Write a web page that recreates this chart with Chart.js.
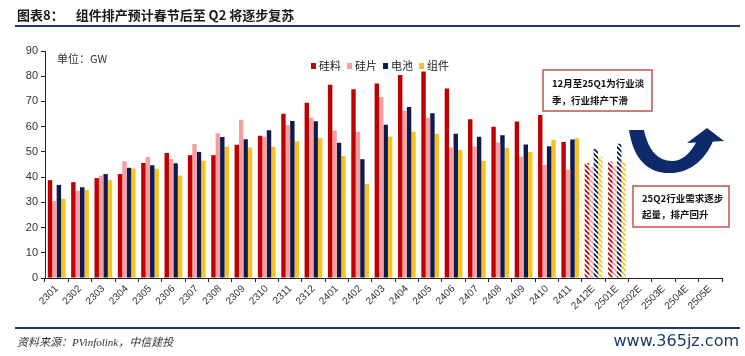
<!DOCTYPE html>
<html>
<head>
<meta charset="utf-8">
<script src="https://cdn.jsdelivr.net/npm/chart.js@4.4.1/dist/chart.umd.min.js"></script>
<style>
  html, body { margin: 0; padding: 0; background: #fff; }
  #wrap { position: relative; width: 745px; height: 356px; overflow: hidden; }
  #c { position: absolute; left: 0; top: 0; }
  .title { position: absolute; left: 17px; top: 5px; font: bold 13px "Noto Sans CJK SC", sans-serif; color: #1a1a1a; white-space: nowrap; }
  .title .t2 { margin-left: 12px; }
  .rule { position: absolute; left: 15px; width: 725px; height: 2px; background: #1f3a6b; }
  .src { position: absolute; left: 17px; top: 333px; font: italic 11px "Liberation Serif", "Noto Sans CJK SC", serif; color: #333; white-space: nowrap; }
  .wm { position: absolute; right: 6px; top: 331px; font: 16px "DejaVu Sans", sans-serif; color: #1f3a6b; white-space: nowrap; }
</style>
</head>
<body>
<div id="wrap">
  <canvas id="c" width="745" height="356"></canvas>
  <div class="title"><span>图表8：</span><span class="t2">组件排产预计春节后至 Q2 将逐步复苏</span></div>
  <div class="rule" style="top:25px"></div>
  <div class="rule" style="top:327px"></div>
  <div class="src">资料来源：PVinfolink，中信建投</div>
  <div class="wm">www.365jz.com</div>
</div>
<script>
// ---- data ----
const categories = ['2301','2302','2303','2304','2305','2306','2307','2308','2309','2310','2311','2312',
  '2401','2402','2403','2404','2405','2406','2407','2408','2409','2410','2411','2412E','2501E','2502E','2503E','2504E','2505E'];
const polysilicon = [38.8,38.0,39.6,41.2,45.6,49.6,48.7,48.7,52.8,56.4,65.1,69.5,76.6,74.8,77.1,80.5,81.9,75.1,62.9,60.0,62.0,64.6,53.9,45.6,46.1,null,null,null,null];
const wafer       = [30.5,34.6,40.6,46.3,48.0,47.2,53.1,57.4,62.7,56.0,60.6,63.5,58.5,58.0,71.8,66.3,63.5,51.7,52.1,53.7,48.1,44.8,43.0,44.0,44.5,null,null,null,null];
const cell        = [36.9,36.0,41.2,43.7,44.7,45.5,50.0,55.9,55.0,58.6,62.2,62.1,53.6,47.1,60.8,67.8,65.3,57.2,56.0,56.6,52.9,52.2,54.9,51.2,53.2,null,null,null,null];
const module_     = [31.4,34.9,38.8,43.4,43.3,40.6,46.5,52.0,51.7,52.0,54.1,55.4,48.4,37.3,56.0,58.0,57.2,50.7,46.4,51.6,50.0,54.8,55.4,48.1,46.0,null,null,null,null];
const seriesNames = ['硅料','硅片','电池','组件'];
const seriesColors = ['#C00000','#F4A0A3','#0D1B4F','#F9C223'];
const yTicks = [0,10,20,30,40,50,60,70,80,90];
const note1 = ['12月至25Q1为行业淡','季，行业排产下滑'];
const note2 = ['25Q2行业需求逐步','起量，排产回升'];
const unitLabel = '单位：GW';

function makeHatch(color) {
  const p = document.createElement('canvas');
  p.width = 5; p.height = 5;
  const g = p.getContext('2d');
  g.strokeStyle = color; g.lineWidth = 1.7; g.lineCap = 'square';
  g.beginPath();
  g.moveTo(0, 0); g.lineTo(5, 5);
  g.moveTo(-1, 4); g.lineTo(1, 6);
  g.moveTo(4, -1); g.lineTo(6, 1);
  g.stroke();
  return g.createPattern(p, 'repeat');
}
function fills(color) {
  const hatch = makeHatch(color);
  return categories.map(c => c.endsWith('E') ? hatch : color);
}
const allSeries = [polysilicon, wafer, cell, module_];

const overlay = {
  id: 'overlay',
  afterDatasetsDraw(chart) {
    const ctx = chart.ctx;
    const a = chart.chartArea;
    ctx.save();
    // unit label
    ctx.font = '11px "Noto Sans CJK SC", sans-serif';
    ctx.fillStyle = '#333';
    ctx.textBaseline = 'middle';
    ctx.textAlign = 'left';
    ctx.fillText(unitLabel, a.left + 12, a.top + 8);
    // legend
    const lx = [311, 347, 383, 419];
    const ly = a.top + 15;
    seriesNames.forEach((n, i) => {
      ctx.fillStyle = seriesColors[i];
      ctx.fillRect(lx[i], ly - 3, 5, 6);
      ctx.fillStyle = '#222';
      ctx.fillText(n, lx[i] + 8, ly);
    });
    // note boxes
    ctx.strokeStyle = '#C0504D';
    ctx.lineWidth = 1.5;
    ctx.strokeRect(543, 70, 109, 41);
    ctx.strokeRect(633, 186, 96, 41);
    ctx.fillStyle = '#111';
    ctx.font = 'bold 9.5px "Noto Sans CJK SC", sans-serif';
    ctx.fillText(note1[0], 552, 83);
    ctx.fillText(note1[1], 552, 100);
    ctx.fillText(note2[0], 642, 198);
    ctx.fillText(note2[1], 642, 214);
    // curved arrow
    ctx.fillStyle = '#0E2A6B';
    ctx.beginPath();
    ctx.moveTo(629, 130);
    ctx.bezierCurveTo(634, 162, 650, 174, 672, 173);
    ctx.bezierCurveTo(692, 172, 706, 158, 713, 141);
    ctx.lineTo(697, 141);
    ctx.bezierCurveTo(690, 154, 682, 161, 672, 161);
    ctx.bezierCurveTo(658, 161, 648, 150, 644, 130);
    ctx.closePath();
    ctx.fill();
    ctx.beginPath();
    ctx.moveTo(687, 143);
    ctx.lineTo(707, 128);
    ctx.lineTo(724, 141);
    ctx.closePath();
    ctx.fill();
    ctx.restore();
  }
};

new Chart(document.getElementById('c'), {
  type: 'bar',
  data: {
    labels: categories,
    datasets: allSeries.map((d, i) => ({
      label: seriesNames[i],
      data: d,
      backgroundColor: fills(seriesColors[i]),
      borderWidth: 0,
      categoryPercentage: 0.76,
      barPercentage: 1.0
    }))
  },
  options: {
    responsive: false,
    animation: false,
    devicePixelRatio: 1,
    layout: { padding: { top: 51, right: 23, left: 0, bottom: 0 } },
    plugins: { legend: { display: false }, tooltip: { enabled: false } },
    scales: {
      x: {
        afterFit(s) { s.height = 78; },
        grid: { drawOnChartArea: false, drawTicks: true, tickLength: 4, color: '#222', offset: true },
        border: { color: '#222', width: 1 },
        ticks: { autoSkip: false, maxRotation: 45, minRotation: 45, padding: 1,
                 color: '#333', font: { family: '"Liberation Sans", sans-serif', size: 10 } }
      },
      y: {
        min: 0, max: 90,
        afterFit(s) { s.width = 45; },
        afterBuildTicks(s) { s.ticks = yTicks.map(v => ({ value: v })); },
        grid: { drawOnChartArea: false, drawTicks: true, tickLength: 4, color: '#222' },
        border: { color: '#222', width: 1 },
        ticks: { padding: 3, color: '#333', font: { family: '"Liberation Sans", sans-serif', size: 11 } }
      }
    }
  },
  plugins: [overlay]
});
</script>
</body>
</html>
